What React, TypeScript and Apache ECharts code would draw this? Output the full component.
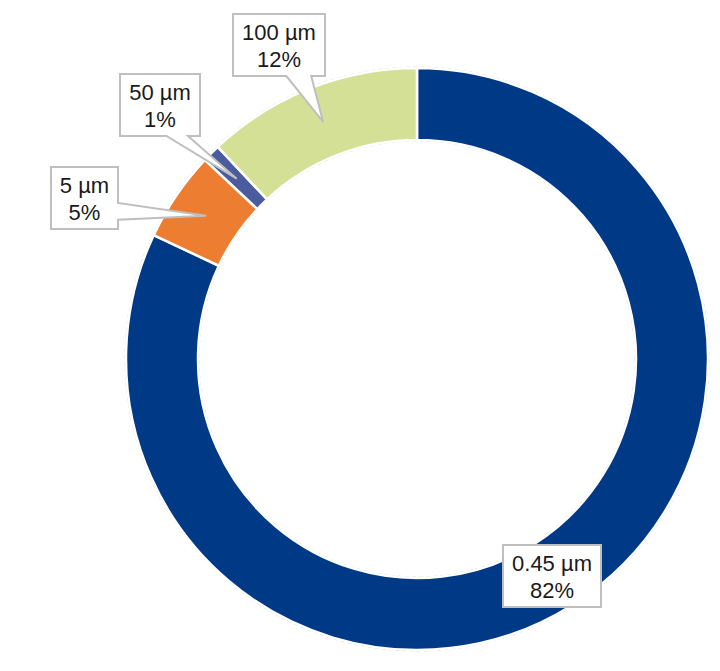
import React, { useEffect, useRef } from "react";
import * as echarts from "echarts";

// ---- data ----
const categories = ["0.45 µm", "5 µm", "50 µm", "100 µm"];
const shares = [82, 5, 1, 12];
const colors = ["#003A87", "#ED7D31", "#4A5B9E", "#D4E096"];

// ---- layout (positions of the callout boxes, px) ----
const CX = 417;
const CY = 359;
const R_IN = 219;
const R_OUT = 291;
const boxTopLeft: [number, number][] = [
  [503, 545],
  [51, 167],
  [120, 74],
  [233, 14],
];
const BOX_H = 62;
const FONT = '22px "Liberation Sans", Arial, sans-serif';

function measure(text: string): number {
  const c = document.createElement("canvas").getContext("2d");
  if (!c) return text.length * 11;
  c.font = FONT;
  return c.measureText(text).width;
}

function calloutPoints(x0: number, y0: number, w: number, h: number, tx: number, ty: number): number[][] {
  const x1 = x0 + w;
  const y1 = y0 + h;
  if (tx >= x0 && tx <= x1 && ty >= y0 && ty <= y1) {
    return [[x0, y0], [x1, y0], [x1, y1], [x0, y1]];
  }
  const dx = (tx - (x0 + w / 2)) / w;
  const dy = (ty - (y0 + h / 2)) / h;
  if (Math.abs(dy) >= Math.abs(dx)) {
    const f = dx >= 0 ? [0.58, 0.85] : [0.15, 0.42];
    const xa = x0 + f[0] * w;
    const xb = x0 + f[1] * w;
    if (dy > 0) return [[x0, y0], [x1, y0], [x1, y1], [xb, y1], [tx, ty], [xa, y1], [x0, y1]];
    return [[x0, y0], [xa, y0], [tx, ty], [xb, y0], [x1, y0], [x1, y1], [x0, y1]];
  } else {
    const f = dy >= 0 ? [0.58, 0.85] : [0.15, 0.42];
    const ya = y0 + f[0] * h;
    const yb = y0 + f[1] * h;
    if (dx > 0) return [[x0, y0], [x1, y0], [x1, ya], [tx, ty], [x1, yb], [x1, y1], [x0, y1]];
    return [[x0, y0], [x1, y0], [x1, y1], [x0, y1], [x0, yb], [tx, ty], [x0, ya]];
  }
}

export default function App() {
  const ref = useRef<HTMLDivElement>(null);
  useEffect(() => {
    if (!ref.current) return;
    const chart = echarts.init(ref.current, undefined, { renderer: "svg" });
    const total = shares.reduce((a, b) => a + b, 0);
    const rMid = (R_IN + R_OUT) / 2;
    let cum = 0;
    const callouts: any[] = [];
    categories.forEach((name, i) => {
      const v = shares[i];
      const mid = (cum + v / 2) / total;
      cum += v;
      const th = mid * Math.PI * 2;
      const tx = CX + rMid * Math.sin(th);
      const ty = CY - rMid * Math.cos(th);
      const pct = Math.round((v / total) * 100) + "%";
      const text = name + "\n" + pct;
      const w = Math.round(Math.max(measure(name), measure(pct)) + 18);
      const [x0, y0] = boxTopLeft[i];
      callouts.push({
        type: "polygon",
        z: 100,
        shape: { points: calloutPoints(x0, y0, w, BOX_H, tx, ty) },
        style: { fill: "#ffffff", stroke: "#BFBFBF", lineWidth: 2 },
        silent: true,
      });
      callouts.push({
        type: "text",
        z: 101,
        x: x0 + w / 2,
        y: y0 + BOX_H / 2 + 1,
        style: {
          text,
          font: FONT,
          lineHeight: 27,
          align: "center",
          verticalAlign: "middle",
          fill: "#1a1a1a",
        },
        silent: true,
      });
    });

    chart.setOption({
      animation: false,
      backgroundColor: "#ffffff",
      graphic: [
        {
          type: "circle",
          z: 0,
          shape: { cx: CX, cy: CY, r: R_OUT + 1 },
          style: { fill: "none", stroke: "#D6D6D6", lineWidth: 1, lineDash: [4, 3] },
          silent: true,
        },
        {
          type: "circle",
          z: 0,
          shape: { cx: CX, cy: CY, r: R_IN - 1 },
          style: { fill: "none", stroke: "#D6D6D6", lineWidth: 1, lineDash: [4, 3] },
          silent: true,
        },
        ...callouts,
      ],
      series: [
        {
          type: "pie",
          center: [CX, CY],
          radius: [R_IN, R_OUT],
          startAngle: 90,
          clockwise: true,
          z: 2,
          label: { show: false },
          labelLine: { show: false },
          emphasis: { disabled: true },
          itemStyle: { borderColor: "#ffffff", borderWidth: 2.5 },
          data: categories.map((name, i) => ({
            name,
            value: shares[i],
            itemStyle: { color: colors[i] },
          })),
        },
      ],
    });
    return () => chart.dispose();
  }, []);
  return (
    <div
      ref={ref}
      style={{ position: "fixed", left: 0, top: 0, width: 720, height: 671 }}
    />
  );
}
